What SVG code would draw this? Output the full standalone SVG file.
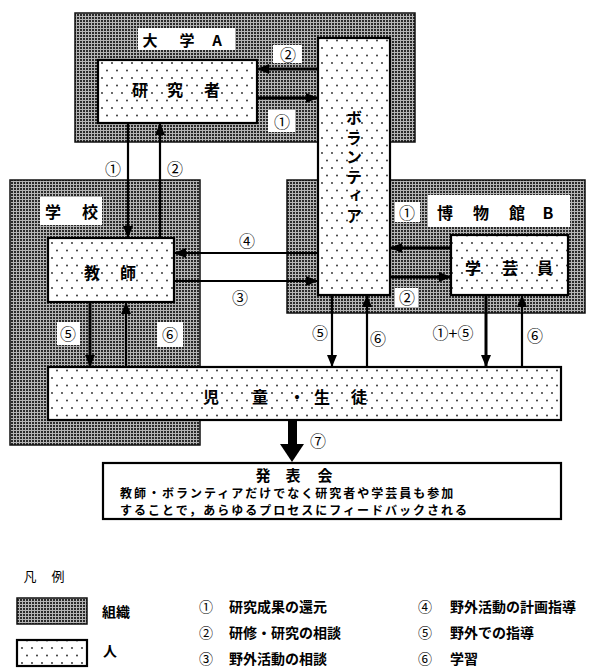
<svg xmlns="http://www.w3.org/2000/svg" width="590" height="669" viewBox="0 0 590 669">
<style>
text{font-family:"Noto Sans CJK JP","Noto Sans",sans-serif;font-weight:700;fill:#000;dominant-baseline:central;text-anchor:middle}
.org{fill:url(#org);stroke:#111;stroke-width:1.5}
.per{fill:url(#dots);stroke:#000;stroke-width:2.2}
.bg{fill:#fff}
.node{font-size:16px}
.num{font-size:16px;font-weight:400}
.ln{stroke:#000;stroke-width:2.2;fill:none;marker-end:url(#ah)}
.lnh{stroke:#000;stroke-width:3;fill:none;marker-end:url(#ah)}
.leg{font-size:14px;text-anchor:start}
.legn{font-size:14px;font-weight:400}
.pt{font-size:12px;letter-spacing:2px;text-anchor:start}
</style>
<defs>
<pattern id="org" width="3" height="3" patternUnits="userSpaceOnUse"><rect width="3" height="3" fill="#2a2a2a"/><rect x="0" y="1" width="3" height="1" fill="#b4b4b4"/><rect x="1" y="0" width="1" height="3" fill="#b4b4b4"/></pattern>
<pattern id="dots" width="10" height="15" patternUnits="userSpaceOnUse"><rect width="10" height="15" fill="#fff"/><circle cx="2" cy="3" r="0.9" fill="#222"/><circle cx="7" cy="10.5" r="0.9" fill="#222"/></pattern>
<marker id="ah" viewBox="0 0 12 10" refX="12" refY="5" markerWidth="12" markerHeight="10" markerUnits="userSpaceOnUse" orient="auto"><path d="M0,0 L12,5 L0,10 z" fill="#000"/></marker>
</defs>

<g id="univA">
<rect class="org" x="75" y="13" width="340" height="129"/>
<rect class="bg" x="138" y="28" width="97" height="22"/>
<text x="150 187 217" y="39" style="font-size:15px">大学A</text>
</g>
<g id="school">
<rect class="org" x="10" y="180" width="190" height="265"/>
<rect class="bg" x="40" y="197" width="62" height="28"/>
<text x="53 90" y="211" style="font-size:16px">学校</text>
</g>
<g id="museumB">
<rect class="org" x="287" y="180" width="298" height="133"/>
<rect class="bg" x="428" y="195" width="142" height="32"/>
<text x="445 481 517 548" y="212" style="font-size:16px">博物館B</text>
</g>

<g id="researcher">
<rect class="per" x="98" y="60" width="159" height="63"/>
<text class="node" x="140 175 212" y="89">研究者</text>
</g>
<g id="teacher">
<rect class="per" x="48" y="238" width="126" height="64"/>
<text class="node" x="92 128" y="272">教師</text>
</g>
<g id="curator">
<rect class="per" x="451" y="235" width="117" height="60"/>
<text class="node" x="473 510 545" y="267">学芸員</text>
</g>
<g id="volunteer">
<rect class="per" x="318" y="38" width="72" height="257"/>
<text x="354" y="110" style="writing-mode:vertical-rl;text-anchor:start;font-size:16px;letter-spacing:3.5px">ボランティア</text>
</g>
<g id="children">
<rect class="per" x="48" y="367" width="513" height="53"/>
<text class="node" x="211 260 297 322 359" y="396">児童・生徒</text>
</g>
<g id="presentation">
<rect x="103" y="463" width="458" height="56" fill="#fff" stroke="#000" stroke-width="2.2"/>
<text x="263 293 325" y="474" style="font-size:15px">発表会</text>
<text class="pt" x="120" y="492">教師・ボランティアだけでなく研究者や学芸員も参加</text>
<text class="pt" x="120" y="509.5">することで，あらゆるプロセスにフィードバックされる</text>
</g>

<g id="connectors">
<path class="lnh" d="M318,69 H257"/>
<path class="lnh" d="M257,98 H318"/>
<path class="ln" d="M128,123 V238"/>
<path class="ln" d="M160,238 V123"/>
<path class="ln" d="M318,253 H174"/>
<path class="ln" d="M174,281 H318"/>
<path class="lnh" d="M451,248 H390"/>
<path class="lnh" d="M390,277 H451"/>
<path class="lnh" d="M90,302 V367"/>
<path class="ln" d="M126,367 V302"/>
<path class="ln" d="M332,295 V367"/>
<path class="ln" d="M367,367 V295"/>
<path class="lnh" d="M486,295 V367"/>
<path class="ln" d="M522,367 V295"/>
<rect x="288" y="420" width="9" height="25" fill="#000"/>
<path d="M280,444 L304,444 L292,462 z" fill="#000"/>
</g>

<g id="labels">
<rect class="bg" x="273" y="45" width="29" height="18"/>
<text class="num" x="288" y="54">②</text>
<rect class="bg" x="268" y="110" width="27" height="22"/>
<text class="num" x="282" y="121">①</text>
<text class="num" x="113" y="168">①</text>
<text class="num" x="175" y="168">②</text>
<text class="num" x="247" y="240">④</text>
<text class="num" x="240" y="297">③</text>
<rect class="bg" x="395" y="202" width="25" height="20"/>
<text class="num" x="407" y="212">①</text>
<rect class="bg" x="395" y="288" width="23" height="19"/>
<text class="num" x="407" y="297">②</text>
<rect class="bg" x="57" y="322" width="23" height="23"/>
<text class="num" x="68" y="333">⑤</text>
<rect class="bg" x="157" y="322" width="26" height="25"/>
<text class="num" x="170" y="334">⑥</text>
<text class="num" x="320" y="332">⑤</text>
<text class="num" x="378" y="338">⑥</text>
<text class="num" x="453" y="332">①+⑤</text>
<text class="num" x="535" y="335">⑥</text>
<text class="num" x="318" y="440">⑦</text>
</g>

<g id="legend">
<text x="30 58" y="575" style="font-size:13px;font-weight:400">凡例</text>
<rect class="org" x="17" y="598" width="70" height="26"/>
<text class="leg" x="102" y="611">組織</text>
<rect class="per" x="17" y="640" width="70" height="26"/>
<text class="leg" x="103" y="650">人</text>
<text class="legn" x="206" y="606">①</text>
<text class="leg" x="229" y="606">研究成果の還元</text>
<text class="legn" x="206" y="632">②</text>
<text class="leg" x="229" y="632">研修・研究の相談</text>
<text class="legn" x="206" y="658">③</text>
<text class="leg" x="229" y="658">野外活動の相談</text>
<text class="legn" x="425" y="606">④</text>
<text class="leg" x="450" y="606">野外活動の計画指導</text>
<text class="legn" x="425" y="632">⑤</text>
<text class="leg" x="450" y="632">野外での指導</text>
<text class="legn" x="425" y="658">⑥</text>
<text class="leg" x="450" y="658">学習</text>
</g>
</svg>
